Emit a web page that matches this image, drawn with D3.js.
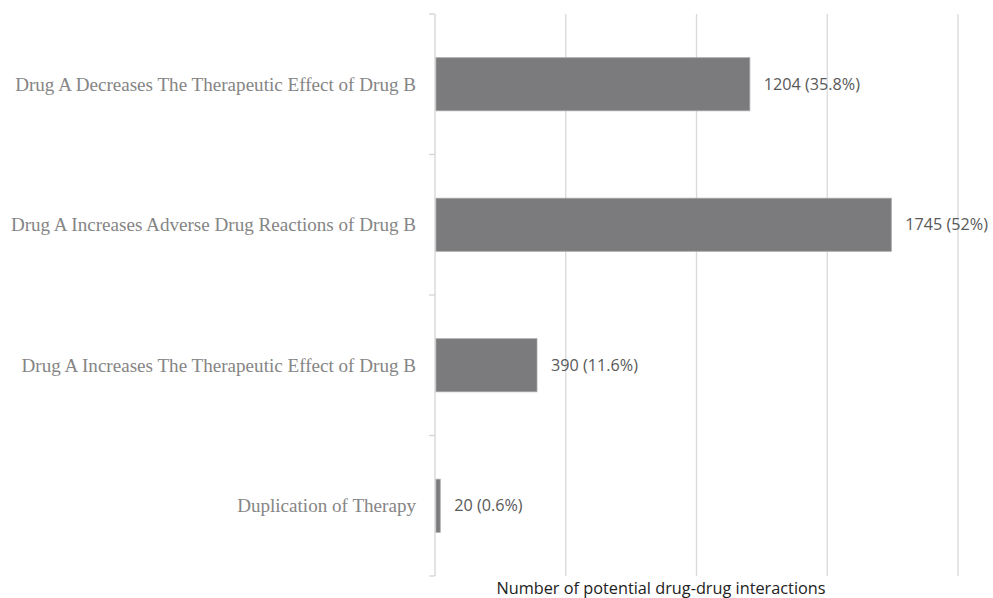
<!DOCTYPE html>
<html>
<head>
<meta charset="utf-8">
<script src="https://cdn.jsdelivr.net/npm/d3@7"></script>
<style>
  body { margin: 0; background: #fff; }
  svg { display: block; }
</style>
</head>
<body>
<svg width="993" height="598"></svg>
<script>
// data
var categories = [
  "Drug A Decreases The Therapeutic Effect of Drug B",
  "Drug A Increases Adverse Drug Reactions of Drug B",
  "Drug A Increases The Therapeutic Effect of Drug B",
  "Duplication of Therapy"
];
var counts = [1204, 1745, 390, 20];
var percents = ["35.8%", "52%", "11.6%", "0.6%"];
var xTicks = [500, 1000, 1500, 2000];
var axisTitle = "Number of potential drug-drug interactions";

var svg = d3.select("svg"),
  width = +svg.attr("width"),
  height = +svg.attr("height");

var plotLeft = 435, plotRight = 958, plotTop = 14, plotBottom = 576;

var x = d3.scaleLinear().domain([0, 2000]).range([plotLeft, plotRight]);
var y = d3.scaleBand().domain(categories).range([plotTop, plotBottom]).padding(0);
var bw = y.bandwidth();
var barH = bw * 0.378;

// gridlines
svg.append("g")
  .selectAll("line")
  .data(xTicks)
  .enter()
  .append("line")
  .attr("x1", function (d) { return x(d); })
  .attr("x2", function (d) { return x(d); })
  .attr("y1", plotTop)
  .attr("y2", plotBottom)
  .attr("stroke", "#d9d9d9")
  .attr("stroke-width", 1.3);

// left axis line + ticks at band edges
svg.append("line")
  .attr("x1", x(0)).attr("x2", x(0))
  .attr("y1", plotTop).attr("y2", plotBottom)
  .attr("stroke", "#d4d4d4")
  .attr("stroke-width", 1.3);

var edges = categories.map(function (c) { return y(c); }).concat([plotBottom]);
svg.append("g")
  .selectAll("line")
  .data(edges)
  .enter()
  .append("line")
  .attr("x1", x(0) - 6)
  .attr("x2", x(0))
  .attr("y1", function (d) { return d; })
  .attr("y2", function (d) { return d; })
  .attr("stroke", "#d4d4d4")
  .attr("stroke-width", 1.3);

// bars
var rows = categories.map(function (c, i) {
  return { cat: c, n: counts[i], pct: percents[i] };
});

svg.append("g")
  .selectAll("rect")
  .data(rows)
  .enter()
  .append("rect")
  .attr("x", x(0) + 1)
  .attr("y", function (d) { return y(d.cat) + (bw - barH) / 2; })
  .attr("width", function (d) { return Math.max(x(d.n) - x(0) - 1, 1.5); })
  .attr("height", barH)
  .attr("fill", "#7b7b7e")
  .attr("stroke", "#a6a6a8")
  .attr("stroke-width", 0.8);

// value labels
svg.append("g")
  .selectAll("text")
  .data(rows)
  .enter()
  .append("text")
  .attr("x", function (d) { return x(d.n) + 14; })
  .attr("y", function (d) { return y(d.cat) + bw / 2; })
  .attr("dy", "0.35em")
  .attr("font-family", "'Open Sans', sans-serif")
  .attr("font-size", "16.2px")
  .attr("fill", "#595959")
  .text(function (d) { return d.n + " (" + d.pct + ")"; });

// category labels
svg.append("g")
  .selectAll("text")
  .data(categories)
  .enter()
  .append("text")
  .attr("x", 416)
  .attr("y", function (d) { return y(d) + bw / 2; })
  .attr("dy", "0.35em")
  .attr("text-anchor", "end")
  .attr("font-family", "'Liberation Serif', 'Times New Roman', serif")
  .attr("font-size", "19.1px")
  .attr("fill", "#858585")
  .text(function (d) { return d; });

// axis title
svg.append("text")
  .attr("x", 661)
  .attr("y", 594)
  .attr("text-anchor", "middle")
  .attr("font-family", "'Open Sans', sans-serif")
  .attr("font-size", "16.3px")
  .attr("fill", "#222")
  .text(axisTitle);
</script>
</body>
</html>
